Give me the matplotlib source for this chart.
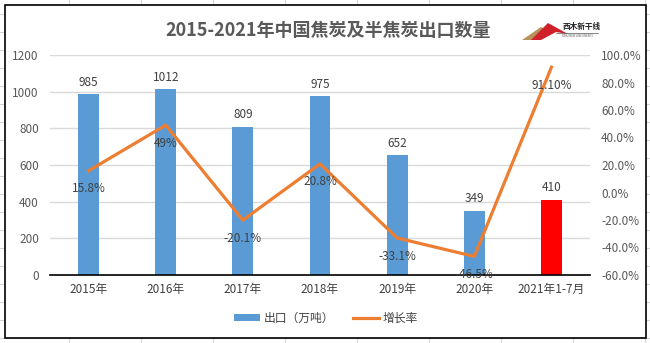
import numpy as np
import matplotlib
matplotlib.use('Agg')
import matplotlib.pyplot as plt
from matplotlib.patches import Rectangle, Polygon
from matplotlib.lines import Line2D
from matplotlib.ticker import FuncFormatter

plt.rcParams['font.family'] = ['Noto Sans CJK SC', 'DejaVu Sans']

# data
years = ['2015年', '2016年', '2017年', '2018年', '2019年', '2020年', '2021年1-7月']
exports = [985, 1012, 809, 975, 652, 349, 410]          # 万吨
growth = [15.8, 49, -20.1, 20.8, -33.1, -46.5, 91.1]    # %
growth_labels = ['15.8%', '49%', '-20.1%', '20.8%', '-33.1%', '-46.5%', '91.10%']

W, H = 650, 343
fig = plt.figure(figsize=(6.5, 3.43), dpi=100)

def fx(px):
    return px / W

def fy(py):
    return 1 - py / H

def pts(coords):
    return [[fx(a), fy(b)] for a, b in coords]

# spreadsheet cell lines behind the chart frame
for x in range(69, 650, 72):
    fig.add_artist(Line2D([fx(x), fx(x)], [0, 1], color='#d4d4d4', lw=0.8, zorder=-3))
for y in range(14, 343, 18):
    fig.add_artist(Line2D([0, 1], [fy(y), fy(y)], color='#d4d4d4', lw=0.8, zorder=-3))
fig.add_artist(Rectangle((fx(5), fy(338)), fx(641), 333 / H, facecolor='white',
                         edgecolor='black', lw=1.2, zorder=-2))

ax = fig.add_axes([fx(50), fy(275), fx(540), 220 / H])
ax.patch.set_visible(False)
x = np.arange(len(years))
colors = ['#5b9bd5'] * (len(years) - 1) + ['#ff0000']
bars = ax.bar(x, exports, width=0.27, color=colors, zorder=2)
ax.set_xlim(-0.5, len(years) - 0.5)
ax.set_ylim(0, 1200)
ax.set_yticks(range(0, 1201, 200))
ax.grid(axis='y', color='#d9d9d9', lw=1, zorder=0)
ax.set_axisbelow(True)
for s in ['top', 'right', 'left']:
    ax.spines[s].set_visible(False)
ax.spines['bottom'].set_color('black')
ax.spines['bottom'].set_linewidth(1.2)
ax.set_xticks(x)
ax.set_xticklabels(years)
ax.tick_params(axis='both', length=0, labelsize=8.5, colors='#404040', pad=6)
ax.tick_params(axis='y', labelcolor='#595959', pad=8)
for xi, v in zip(x, exports):
    ax.annotate(str(v), (xi, v), xytext=(0, 4), textcoords='offset points',
                ha='center', va='bottom', fontsize=8.5, color='#404040')

ax2 = ax.twinx()
ax2.plot(x, growth, color='#ed7d31', lw=2.3, zorder=3)
ax2.set_ylim(-60, 100)
ax2.set_yticks(range(-60, 101, 20))
ax2.yaxis.set_major_formatter(FuncFormatter(lambda v, p: '%.1f%%' % v))
for s in ['top', 'right', 'left', 'bottom']:
    ax2.spines[s].set_visible(False)
ax2.tick_params(axis='y', length=0, labelsize=8.5, labelcolor='#595959', pad=8)
for xi, v, t in zip(x, growth, growth_labels):
    ax2.annotate(t, (xi, v), xytext=(0, -13), textcoords='offset points',
                 ha='center', va='center', fontsize=8.5, color='#404040')

fig.text(fx(328), fy(31), '2015-2021年中国焦炭及半焦炭出口数量', ha='center', va='center',
         fontsize=13, fontweight='bold', color='#595959')

# small logo at top right
fig.add_artist(Polygon(pts([(522, 40), (541, 27), (553, 33), (533, 40)]),
                       closed=True, facecolor='#b8925a', edgecolor='none'))
fig.add_artist(Polygon(pts([(531, 40), (548, 23), (568, 34), (556, 32), (541, 40)]),
                       closed=True, facecolor='#d0202a', edgecolor='none'))
fig.text(fx(582), fy(27), '西木新干线', ha='center', va='center', fontsize=5.5,
         fontweight='bold', color='#222222')
fig.add_artist(Line2D([fx(556), fx(598)], [fy(33), fy(33)], color='#555555', lw=0.5))
fig.text(fx(577), fy(36), 'XIMU NEW LINE ENERGY', ha='center', va='center', fontsize=2,
         color='#555555')

handles = [Rectangle((0, 0), 1, 1, facecolor='#5b9bd5'),
           Line2D([0], [0], color='#ed7d31', lw=2.3)]
fig.legend(handles, ['出口（万吨）', '增长率'], loc='center', bbox_to_anchor=(fx(326), fy(318)),
           ncol=2, frameon=False, fontsize=8.5, handlelength=2.2, handleheight=0.55,
           columnspacing=1.6, handletextpad=0.3, labelcolor='#404040')

plt.savefig('out.png', dpi=100)
